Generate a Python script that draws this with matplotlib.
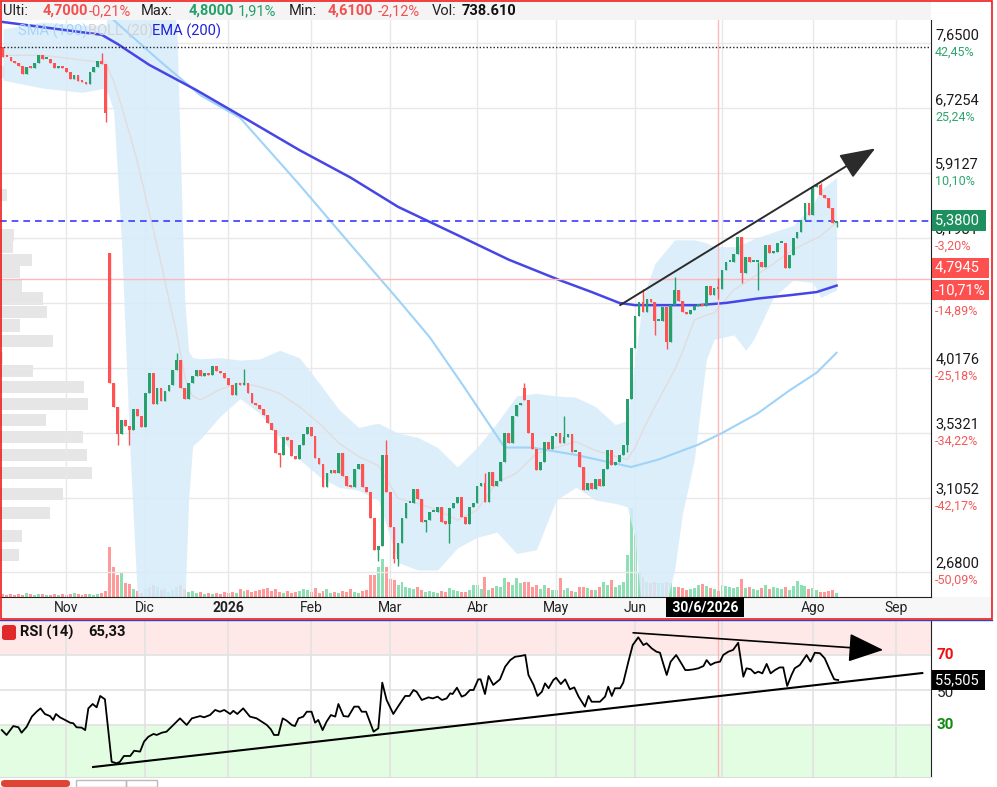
import numpy as np
import pandas as pd
import matplotlib
matplotlib.use("Agg")
import matplotlib.pyplot as plt
from matplotlib.patches import Rectangle, FancyBboxPatch
from matplotlib.ticker import NullLocator, NullFormatter

plt.rcParams['font.family'] = ['Roboto', 'DejaVu Sans']

# sesiones del mercado (festivos fuera)
festivos = ["2025-12-25", "2025-12-26", "2026-01-01", "2026-04-03", "2026-04-06", "2026-05-01"]
fechas = pd.bdate_range("2025-10-10", "2026-09-30", freq="C", holidays=festivos)
meses = ['Ene', 'Feb', 'Mar', 'Abr', 'May', 'Jun', 'Jul', 'Ago', 'Sep', 'Oct', 'Nov', 'Dic']

cierres = [7.45, 7.44, 7.39, 7.36, 7.31, 7.20, 7.30, 7.28, 7.36, 7.47, 7.42, 7.42, 7.35, 7.28, 7.32,
           7.28, 7.22, 7.12, 7.18, 7.10, 7.08, 7.06, 7.22, 7.30, 7.38, 7.34, 6.66,
           3.90,
           3.72, 3.52, 3.62, 3.58, 3.55, 3.70, 3.65, 3.57, 3.82, 3.98, 3.74, 3.86, 3.76, 3.84, 3.88,
           4.00, 4.08, 3.86, 3.78, 3.90, 3.95, 4.00, 3.95, 3.98, 3.96, 4.03, 3.99, 3.98, 3.94, 3.88,
           3.81, 3.90, 3.88, 3.90, 3.82, 3.75, 3.73, 3.70, 3.66, 3.60,
           3.55, 3.39, 3.38, 3.50, 3.48, 3.37, 3.35, 3.45, 3.52, 3.57,
           3.51, 3.36, 3.32, 3.17, 3.26, 3.28, 3.26, 3.39, 3.24, 3.18,
           3.17, 3.29, 3.32, 3.17, 3.14, 2.98, 2.80, 2.82, 3.38, 3.14,
           2.93, 2.75, 2.84, 2.98, 3.07, 3.07, 3.16, 3.10, 2.96, 2.97,
           3.02, 3.02, 3.05, 2.96, 2.95, 3.04, 3.07, 3.11,
           2.99, 2.95, 3.05, 3.07, 3.18, 3.20, 3.08, 3.27, 3.18, 3.21,
           3.33, 3.53, 3.46, 3.65, 3.73, 3.75, 3.77, 3.53, 3.42, 3.28,
           3.33, 3.47, 3.42, 3.51, 3.53, 3.46, 3.50, 3.52, 3.40, 3.40,
           3.30, 3.15, 3.20, 3.16, 3.22, 3.18, 3.29, 3.41, 3.31, 3.33,
           3.38, 3.45, 3.78, 4.18, 4.45, 4.58, 4.49, 4.61, 4.58, 4.41,
           4.41, 4.53, 4.23, 4.55, 4.69, 4.59, 4.49, 4.47,
           4.51, 4.54, 4.56, 4.54, 4.73, 4.64, 4.71, 4.70, 4.88, 4.96, 4.96, 5.04, 5.21, 4.85,
           5.01, 4.96, 4.96, 4.96, 4.91, 5.13, 5.05, 5.06, 5.15, 5.15, 4.90, 5.03, 5.20, 5.26,
           5.39, 5.57, 5.44, 5.75, 5.78, 5.66, 5.63, 5.52, 5.36, 5.38]
aperturas_gap = {0: 7.59, 27: 5.05, 132: 3.86}
maximos = {25: 7.50, 44: 4.14, 61: 4.01, 97: 3.48, 122: 3.26, 132: 3.90, 142: 3.65, 162: 4.70,
           170: 4.81, 181: 4.80, 207: 5.80}
minimos = {26: 6.54, 29: 3.45, 32: 3.45, 70: 3.30, 95: 2.74, 99: 2.73, 100: 2.71, 107: 2.90,
           113: 2.84, 158: 3.40, 165: 4.29, 168: 4.17, 181: 4.61, 187: 4.75, 191: 4.69, 211: 5.31}
volumen = [3, 2, 3, 2, 3, 2, 4, 3, 2, 3, 3, 2, 2, 3, 2, 3, 2, 3, 4, 3, 2, 3, 3, 2, 3, 4, 6,
           50,
           30, 22, 25, 14, 13, 8, 6, 4, 8, 10, 12, 10, 7, 8, 5, 7, 10, 12, 8, 5, 6, 4, 5, 3, 4, 3, 4, 3, 5, 4,
           5, 4, 8, 6, 7, 5, 6, 7, 8, 9, 6, 8, 5, 4, 6, 4, 5, 6, 8, 7, 5, 9, 4, 6, 8, 4, 5, 4, 6, 5, 8, 5, 4, 6, 7,
           22, 22, 30, 38, 30, 18, 17, 12, 15, 10, 9, 8, 10, 7, 5, 6, 5, 4, 6, 5, 9, 7, 6,
           5, 5, 7, 12, 12, 8, 20, 7, 9, 11, 10, 19, 15, 12, 19, 14, 15, 15, 10, 12, 8, 12, 9, 7, 7, 19, 7, 9, 6, 5,
           10, 10, 9, 7, 7, 10, 15, 12, 17, 10, 12, 15, 42, 89, 64, 24, 20, 15, 14, 15, 14, 14, 15, 14, 10, 10, 9, 7,
           8, 9, 12, 13, 11, 9, 8, 6, 12, 11, 10, 9, 10, 18, 9, 10, 8, 7, 9, 12, 8, 10, 9, 8, 10, 7, 11, 16, 12, 11,
           8, 9, 7, 5, 5, 6, 7, 4]

# indicadores
ema_idx = [0, 25, 29, 37, 49, 62, 75, 88, 100, 116, 128, 141, 149, 156, 160, 176, 183, 191, 199, 206, 211]
ema_val = [7.98, 7.78, 7.64, 7.33, 6.97, 6.57, 6.19, 5.86, 5.53, 5.21, 4.98, 4.78, 4.67, 4.57, 4.55,
           4.55, 4.57, 4.61, 4.64, 4.67, 4.73]
sma_idx = [26, 28, 40, 50, 60, 75, 88, 100, 108, 116, 127, 134, 145, 159, 166, 176, 182, 191, 199, 206, 211]
sma_val = [8.30, 8.01, 7.37, 6.90, 6.60, 5.78, 5.13, 4.60, 4.27, 3.90, 3.43, 3.43, 3.38, 3.30, 3.35,
           3.45, 3.53, 3.67, 3.84, 3.98, 4.14]
boll_idx = [0, 10, 20, 26, 28, 30, 32, 34, 35, 40, 42, 44, 45, 46, 47, 48, 50, 55, 60, 65, 70, 75, 80,
            85, 90, 95, 100, 105, 110, 115, 120, 125, 130, 135, 140, 145, 150, 155, 158, 160, 162, 165,
            170, 172, 175, 178, 180, 185, 188, 190, 195, 200, 205, 207, 211]
boll_sup = [7.87, 7.98, 7.93, 7.93, 8.60, 8.80, 8.90, 8.90, 8.90, 8.80, 8.60, 7.90, 6.00, 4.60, 4.15,
            4.10, 4.09, 4.10, 4.08, 4.09, 4.16, 4.10, 3.90, 3.70, 3.57, 3.60, 3.53, 3.50, 3.43, 3.30,
            3.43, 3.60, 3.80, 3.82, 3.80, 3.79, 3.72, 3.59, 3.62, 4.08, 4.62, 4.94, 5.18, 5.18, 5.18,
            5.15, 5.11, 5.11, 5.15, 5.19, 5.26, 5.33, 5.55, 5.72, 5.86]
boll_med = [7.47, 7.47, 7.40, 7.36, 7.10, 6.75, 6.40, 6.05, 5.85, 4.95, 4.60, 4.30, 4.12, 3.95, 3.85,
            3.80, 3.77, 3.85, 3.90, 3.87, 3.82, 3.72, 3.60, 3.46, 3.37, 3.31, 3.10, 3.07, 3.03, 2.97,
            3.03, 3.20, 3.26, 3.39, 3.43, 3.47, 3.41, 3.37, 3.35, 3.43, 3.55, 3.72, 4.00, 4.15, 4.42,
            4.46, 4.48, 4.69, 4.76, 4.81, 4.94, 5.08, 5.18, 5.22, 5.36]
boll_inf = [7.11, 7.00, 6.94, 7.00, 6.70, 5.16, 3.48, 2.55, 2.30, 2.10, 2.10, 2.20, 2.30, 2.50, 3.10,
            3.44, 3.49, 3.65, 3.78, 3.67, 3.50, 3.35, 3.24, 3.17, 3.15, 3.09, 2.73, 2.69, 2.69, 2.81,
            2.87, 2.90, 2.78, 2.80, 3.09, 3.17, 3.09, 3.07, 3.05, 2.86, 2.40, 2.30, 2.69, 3.01, 3.35,
            4.08, 4.25, 4.29, 4.16, 4.25, 4.62, 4.78, 4.76, 4.62, 4.69]

# perfil de volumen (izquierda)
perfil_precio = [7.23, 5.66, 5.23, 5.11, 4.98, 4.86, 4.73, 4.61, 4.49, 4.37, 4.24, 4.10, 3.99, 3.87,
                 3.74, 3.62, 3.50, 3.38, 3.26, 3.13, 3.01, 2.88, 2.77]
perfil_vol = [5, 7, 14, 13, 32, 20, 22, 43, 47, 20, 53, 3, 33, 84, 88, 46, 83, 87, 92, 63, 50, 22, 19]

niveles = [7.65, 6.7254, 5.9127, 5.1981, 4.5699, 4.0176, 3.5321, 3.1052, 2.68]
niveles_pct = ['42,45%', '25,24%', '10,10%', '-3,20%', '-14,89%', '-25,18%', '-34,22%', '-42,17%', '-50,09%']
ultimo = 5.38
cruz_precio, cruz_pct, cruz_dia = 4.7945, '-10,71%', 181
maximo_periodo = 7.60

rsi_pos = [-0.3, 0.9, 2.6, 3.9, 4.7, 6.0, 7.3, 8.5, 9.5, 10.6, 11.9, 12.7, 13.4, 14.4, 15.7, 17.0, 17.8,
           18.6, 19.9, 20.8, 21.6, 22.7, 23.7, 24.6, 25.8, 27.5, 28.8, 29.6, 30.6, 32.2, 33.2, 34.7,
           35.7, 36.8, 38.1, 38.9, 40.2, 41.4, 43.1, 44.8, 46.5, 47.8, 49.9, 50.9, 52.4, 53.7, 54.9,
           56.0, 57.5, 58.3, 59.3, 60.8, 62.5, 64.2, 65.5, 66.8, 67.8, 68.6, 69.7, 70.8, 71.8, 73.1,
           73.9, 74.8, 76.0, 76.9, 78.1, 79.0, 79.8, 80.9, 81.9, 83.0, 84.1, 84.9, 86.2, 87.4, 88.9,
           90.0, 90.8, 91.9, 93.8, 95.0, 96.0, 97.1, 98.8, 100.1, 101.8, 102.9, 103.9, 104.7, 106.0,
           107.7, 108.8, 110.0, 111.1, 112.3, 113.2, 113.8, 114.9, 116.1, 117.0, 118.2, 119.1, 120.3,
           120.9, 122.0, 122.9, 124.1,
           125.8, 127.1, 128.4, 129.6, 130.9, 132.2, 133.0, 134.3, 135.3, 136.4, 137.2, 138.1, 139.3,
           140.0, 141.2, 142.3, 143.5, 144.6, 145.7, 146.5, 147.3, 148.2, 149.0, 150.3, 151.1, 152.4,
           153.2, 154.1, 154.9, 156.2, 157.0, 158.3, 159.4, 160.8, 162.1, 162.9, 164.2, 165.4, 166.3,
           167.1, 168.0, 169.0, 170.4, 171.6, 172.7, 173.5, 174.8, 176.0, 177.3, 178.1, 179.1, 180.2,
           181.5, 182.3, 183.6, 184.8, 186.1, 187.4, 188.2, 189.3, 190.3, 191.2, 192.2, 193.3, 194.3,
           195.4, 196.6, 197.5, 198.5, 199.6, 200.4, 201.7, 203.4, 204.4, 205.5, 206.8, 208.0, 209.3,
           210.4, 211.4]
rsi_val = [27.1, 24.3, 29.4, 28.7, 25.6, 29.0, 34.8, 37.6, 39.5, 36.3, 35.1, 32.9, 36.3, 34.4, 32.9,
           31.3, 31.0, 28.7, 28.5, 27.1, 39.5, 42.0, 40.1, 46.6, 44.7, 9.0, 8.1, 9.0, 12.3, 12.3, 15.3,
           14.8, 20.5, 23.3, 24.9, 24.3, 25.6, 26.2, 30.0, 33.8, 30.0, 33.8, 35.1, 34.4, 35.7, 38.6,
           37.6, 38.6, 36.3, 38.1, 36.3, 39.5, 34.8, 33.8, 31.9, 30.0, 27.5, 24.3, 24.3, 33.8, 32.5,
           30.0, 29.4, 33.8, 34.8, 37.6, 37.6, 31.3, 32.9, 27.1, 31.9, 35.7, 34.8, 42.0, 35.1, 34.8,
           40.5, 40.5, 37.6, 37.6, 26.2, 28.1, 54.2, 44.3, 36.3, 40.9, 46.6, 46.6, 50.0, 49.0, 44.3,
           45.8, 45.2, 46.2, 44.3, 45.2, 48.1, 47.7, 51.3, 46.2, 47.1, 50.0, 50.0, 56.1, 56.1, 47.7,
           58.0, 52.9,
           56.1, 63.3, 67.1, 69.0, 69.4, 70.0, 58.6, 52.9, 46.6, 49.0, 53.8, 51.0, 55.7, 57.0, 53.4,
           56.1, 50.4, 51.5, 46.2, 43.3, 40.5, 46.6, 43.3, 43.3, 43.3, 46.2, 51.9, 46.6, 51.0, 51.0,
           54.2, 66.2, 75.7, 80.1, 75.7, 76.7, 73.8, 71.9, 71.3, 65.2, 58.6, 66.2, 70.0, 65.6, 61.4,
           61.4, 61.8, 62.4, 63.7, 67.1, 64.3, 65.6, 66.2, 70.0, 71.9, 72.9, 77.0, 57.6, 62.4, 61.8,
           59.5, 60.5, 59.5, 64.9, 59.5, 61.4, 62.9, 62.9, 52.3, 58.6, 62.4, 64.3, 70.0, 66.2, 71.3,
           71.0, 68.1, 61.4, 56.1, 55.7]
rsi_ultimo = 55.505

# lineas de tendencia dibujadas
tend_precio = [(156.2, 4.55), (220.8, 6.21)]
tend_rsi_sup = [(159.5, 82.7), (222.8, 72.9)]
tend_rsi_inf = [(22.8, 6.0), (232.7, 59.7)]

verde, rojo = '#26a06c', '#ff5252'
W, H = 997, 787
x_lim = (-0.76, 234.9)
y_lim = (2.5497, 8.012)


def rect(x0, y0, x1, y1):
    return [x0 / W, 1 - y1 / H, (x1 - x0) / W, (y1 - y0) / H]


fig = plt.figure(figsize=(9.97, 7.87), dpi=100)
fig.add_artist(Rectangle((0, 1 - 20 / H), 931 / W, 18 / H, transform=fig.transFigure,
                         color='#f4f4f4', lw=0, zorder=0))
fig.add_artist(Rectangle((0, 1 - 618 / H), 992 / W, 21 / H, transform=fig.transFigure,
                         color='#f7f7f7', lw=0, zorder=0))

# perfil de volumen
ax_prof = fig.add_axes(rect(0, 20, 931, 597), label='perfil')
ax_prof.set_yscale('log')
ax_prof.set_ylim(*y_lim)
pp = np.array(perfil_precio)
ax_prof.barh(pp * np.exp(-0.012), perfil_vol, height=pp * (np.exp(0.012) - np.exp(-0.012)),
             align='edge', color='#e6e6e6', lw=0)
ax_prof.set_xlim(0, max(perfil_vol) * 10.1)
ax_prof.axis('off')

n = len(cierres)
idx = np.arange(n)
aperturas = [aperturas_gap.get(i, cierres[i - 1] if i else cierres[0]) for i in idx]
sube = [cierres[i] >= aperturas[i] for i in idx]

ax_vol = fig.add_axes(rect(0, 20, 931, 597), label='vol', facecolor='none')
ax_vol.bar(idx, volumen, width=0.75, color=['#8ee0b4' if s else '#ff9a9a' for s in sube], lw=0)
ax_vol.set_xlim(*x_lim)
ax_vol.set_ylim(0, max(volumen) * 6.48)
ax_vol.axis('off')

ax = fig.add_axes(rect(0, 20, 931, 597), label='precio', facecolor='none')
ax.set_yscale('log')
ax.set_ylim(*y_lim)
ax.set_xlim(*x_lim)

inicio_mes = [i for i in range(1, len(fechas)) if fechas[i].month != fechas[i - 1].month and i < x_lim[1]]
etiquetas = [str(fechas[i].year) if fechas[i].month == 1 else meses[fechas[i].month - 1] for i in inicio_mes]

ax.set_yticks(niveles)
ax.yaxis.set_minor_locator(NullLocator())
ax.yaxis.set_minor_formatter(NullFormatter())
ax.set_yticklabels([])
ax.set_xticks(inicio_mes)
ax.set_xticklabels(etiquetas, fontsize=10, color='#222222')
for t in ax.get_xticklabels():
    if t.get_text().isdigit():
        t.set_fontweight('bold')
ax.tick_params(length=0, pad=3)
ax.grid(True, color='#e8e8e8', lw=1)
ax.set_axisbelow(True)
for s in ['top', 'left']:
    ax.spines[s].set_visible(False)
ax.spines['bottom'].set_color('#222222')
ax.spines['right'].set_color('#222222')

# bandas de bollinger y medias
ax.fill_between(boll_idx, boll_inf, boll_sup, color='#d7ebfb', alpha=0.85, lw=0, zorder=1)
ax.plot(boll_idx, boll_med, color='#e2dcdc', lw=1, zorder=2)
ax.plot(sma_idx, sma_val, color='#9fd3f7', lw=1.5, zorder=2)
ax.plot(ema_idx, ema_val, color='#4646e6', lw=1.8, zorder=2)

# velas
colores = [verde if s else rojo for s in sube]
altos = [maximos.get(i, max(aperturas[i], cierres[i])) for i in idx]
bajos = [minimos.get(i, min(aperturas[i], cierres[i])) for i in idx]
ax.vlines(idx, bajos, altos, colors=colores, lw=1, zorder=3)
cuerpo = [max(abs(cierres[i] - aperturas[i]), 0.004 * cierres[i]) for i in idx]
ax.bar(idx, cuerpo, bottom=[min(aperturas[i], cierres[i]) for i in idx], width=0.7,
       color=colores, lw=0, zorder=4)

ax.axhline(maximo_periodo, color='#222222', ls=(0, (1, 1.5)), lw=1, zorder=2)
ax.axhline(ultimo, color='#3a3aff', ls=(0, (4, 3)), lw=1.2, zorder=2)
ax.axhline(cruz_precio, color='#ffb8b8', lw=1, zorder=2)
ax.axvline(cruz_dia, color='#ffb8b8', lw=1, zorder=2)

ax.annotate('', xy=tend_precio[1], xytext=tend_precio[0],
            arrowprops=dict(arrowstyle='-|>,head_length=1.1,head_width=0.42', color='#2b2b2b',
                            lw=1.4, mutation_scale=20, shrinkA=0, shrinkB=0), zorder=5)

# etiquetas de precio a la derecha
eje = ('axes fraction', 'data')
for v, p in zip(niveles, niveles_pct):
    ax.annotate(f'{v:.4f}'.replace('.', ','), xy=(1, v), xycoords=eje, xytext=(3, 1),
                textcoords='offset points', va='bottom', fontsize=10.5, color='#1a1a1a',
                annotation_clip=False)
    ax.annotate(p, xy=(1, v), xycoords=eje, xytext=(3, -1.5), textcoords='offset points', va='top',
                fontsize=9, color='#2ea56f' if not p.startswith('-') else '#f25a5a',
                annotation_clip=False)
ax.annotate(f'{ultimo:.4f}'.replace('.', ',') + ' ', xy=(1, ultimo), xycoords=eje, xytext=(3, 0),
            textcoords='offset points', va='center', fontsize=10.5, color='white',
            bbox=dict(boxstyle='square,pad=0.22', fc='#1e8f5e', ec='none'), annotation_clip=False, zorder=6)
ax.annotate(f'{cruz_precio:.4f}'.replace('.', ',') + '  ', xy=(1, cruz_precio), xycoords=eje, xytext=(3, 3),
            textcoords='offset points', va='bottom', fontsize=10.5, color='white',
            bbox=dict(boxstyle='square,pad=0.2', fc='#ff5050', ec='none'), annotation_clip=False, zorder=6)
ax.annotate(cruz_pct, xy=(1, cruz_precio), xycoords=eje, xytext=(3, -3), textcoords='offset points',
            va='top', fontsize=10.5, color='white',
            bbox=dict(boxstyle='square,pad=0.2', fc='#ff5050', ec='none'), annotation_clip=False, zorder=6)

# cabecera y leyenda
cab = [(3, 'Ulti:', '#222222', 'normal'), (43, '4,7000', '#f25050', 'bold'), (89, '-0,21%', '#f25050', 'normal'),
       (141, 'Max:', '#222222', 'normal'), (189, '4,8000', '#24a06a', 'bold'), (238, '1,91%', '#24a06a', 'normal'),
       (289, 'Min:', '#222222', 'normal'), (328, '4,6100', '#f25050', 'bold'), (378, '-2,12%', '#f25050', 'normal'),
       (432, 'Vol:', '#222222', 'normal'), (462, '738.610', '#111111', 'bold')]
for x, t, c, w in cab:
    fig.text(x / W, 1 - 11 / H, t, color=c, fontweight=w, fontsize=10.5, va='center')
fig.text(18 / W, 1 - 31 / H, 'SMA (100)', color='#a6d5f6', fontsize=10.5, va='center')
fig.text(88 / W, 1 - 31 / H, 'BOLL (20)', color='#d2d2d2', fontsize=10.5, va='center')
fig.text(152 / W, 1 - 31 / H, 'EMA (200)', color='#2020d8', fontsize=10.5, va='center')
fig.text(705 / W, 1 - 607 / H, ' 30/6/2026 ', color='white', fontweight='bold', fontsize=10,
         ha='center', va='center', bbox=dict(boxstyle='square,pad=0.2', fc='black', ec='none'), zorder=10)

# panel RSI
ax_rsi = fig.add_axes(rect(0, 621, 931, 777), label='rsi')
ax_rsi.set_xlim(*x_lim)
ax_rsi.set_ylim(0.29, 89.43)
ax_rsi.axhspan(70, 100, color='#ffe8e8', lw=0, zorder=0)
ax_rsi.axhspan(-5, 30, color='#e3fde3', lw=0, zorder=0)
ax_rsi.set_yticks([30, 50, 70])
ax_rsi.set_yticklabels([])
ax_rsi.set_xticks(inicio_mes)
ax_rsi.set_xticklabels([])
ax_rsi.tick_params(length=0)
ax_rsi.grid(True, color='#e2e2e2', lw=1.2)
ax_rsi.set_axisbelow(True)
for s in ['top', 'left']:
    ax_rsi.spines[s].set_visible(False)
ax_rsi.spines['bottom'].set_color('#dddddd')
ax_rsi.spines['right'].set_color('#222222')
ax_rsi.axvline(cruz_dia, color='#ffb8b8', lw=1, zorder=1)
ax_rsi.plot(rsi_pos, rsi_val, color='black', lw=1.3, zorder=3)
ax_rsi.plot([p[0] for p in tend_rsi_inf], [p[1] for p in tend_rsi_inf], color='black', lw=1.5, zorder=3)
ax_rsi.annotate('', xy=tend_rsi_sup[1], xytext=tend_rsi_sup[0],
                arrowprops=dict(arrowstyle='-|>,head_length=1.1,head_width=0.45', color='black',
                                lw=1.2, mutation_scale=20, shrinkA=0, shrinkB=0), zorder=4)
for v, c, w in [(70, '#ee1111', 'bold'), (50, '#222222', 'normal'), (30, '#138a13', 'bold')]:
    ax_rsi.annotate(str(v), xy=(1, v), xycoords=eje, xytext=(4, -2 if v == 50 else 0),
                    textcoords='offset points', va='center', fontsize=11, color=c, fontweight=w,
                    annotation_clip=False)
ax_rsi.annotate(f'{rsi_ultimo:.3f}'.replace('.', ',') + ' ', xy=(1, rsi_ultimo), xycoords=eje, xytext=(3, 0),
                textcoords='offset points', va='center', fontsize=10.5, color='white',
                bbox=dict(boxstyle='square,pad=0.2', fc='black', ec='none'), annotation_clip=False, zorder=6)
fig.add_artist(FancyBboxPatch((2 / W, 1 - 640 / H), 14 / W, 15 / H, boxstyle='round,pad=0,rounding_size=0.003',
                              transform=fig.transFigure, fc='#e02a2a', ec='none', zorder=5))
fig.text(9 / W, 1 - 632.5 / H, '×', color='white', fontweight='bold', fontsize=11, ha='center', va='center')
fig.text(20 / W, 1 - 632 / H, 'RSI (14)', color='#111111', fontweight='bold', fontsize=10.5, va='center')
fig.text(88 / W, 1 - 632 / H, '65,33', color='#111111', fontweight='bold', fontsize=10.5, va='center')

# marco rojo y botones inferiores
fig.add_artist(Rectangle((0.5 / W, 1 - 618.5 / H), 991.5 / W, 617.5 / H, transform=fig.transFigure,
                         fill=False, ec='#ee1c1c', lw=1.2, zorder=8))
fig.add_artist(plt.Line2D([0, 992 / W], [1 - 620.3 / H] * 2, transform=fig.transFigure, color='#3344bb', lw=1))
fig.add_artist(FancyBboxPatch((1 / W, 0), 69 / W, 7 / H, boxstyle='round,pad=0,rounding_size=0.004',
                              transform=fig.transFigure, fc='#dd4433', ec='none'))
fig.add_artist(Rectangle((76 / W, 0), 50 / W, 7 / H, transform=fig.transFigure, fill=False, ec='#bbbbbb', lw=1))
fig.add_artist(Rectangle((126 / W, 0), 31 / W, 7 / H, transform=fig.transFigure, fill=False, ec='#bbbbbb', lw=1))

fig.savefig('out.png', dpi=100)
